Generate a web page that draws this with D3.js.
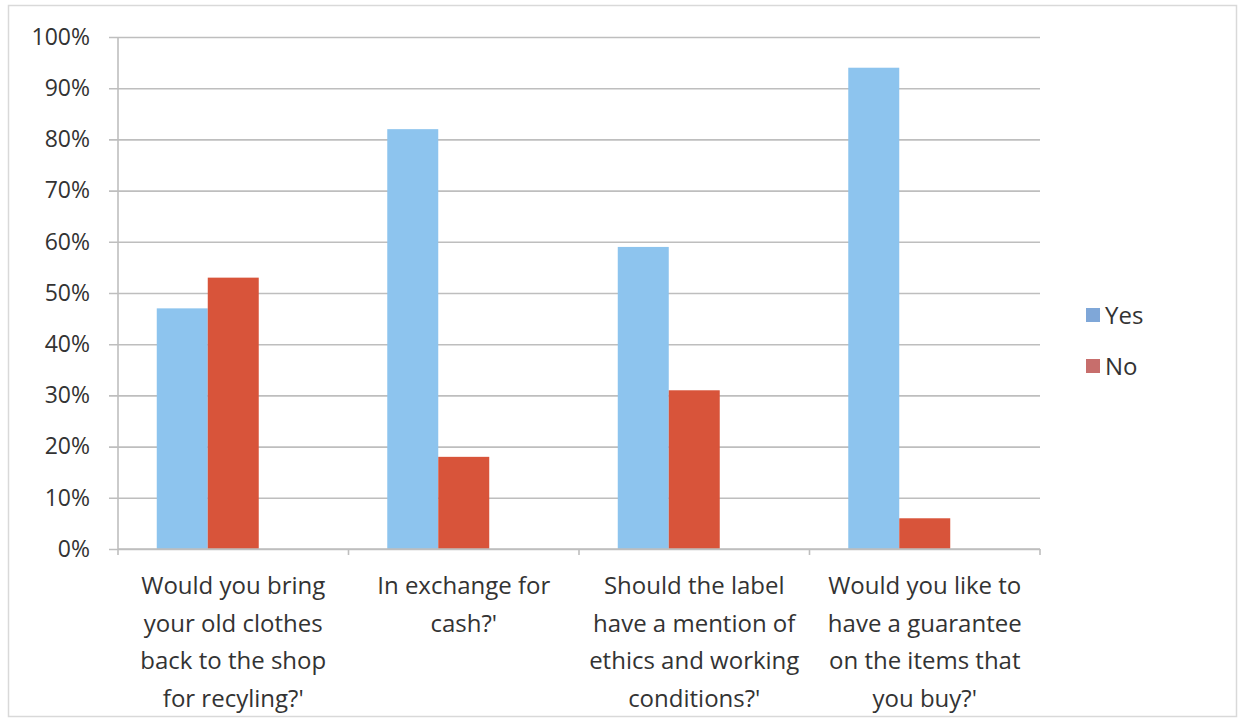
<!DOCTYPE html>
<html>
<head>
<meta charset="utf-8">
<script src="https://cdn.jsdelivr.net/npm/d3@7"></script>
<style>
  html, body { margin: 0; padding: 0; background: #fff; }
  svg { display: block; }
  text { font-family: "Open Sans", "Liberation Sans", sans-serif; fill: #333; }
</style>
</head>
<body>
<svg id="chart" width="1239" height="721"></svg>
<script>
// Survey questions and answer shares (%)
const categories = [
  ["Would you bring", "your old clothes", "back to the shop", "for recyling?'"],
  ["In exchange for", "cash?'"],
  ["Should the label", "have a mention of", "ethics and working", "conditions?'"],
  ["Would you like to", "have a guarantee", "on the items that", "you buy?'"]
];
const seriesNames = ["Yes", "No"];
const yesValues = [47, 82, 59, 94];
const noValues = [53, 18, 31, 6];
const yTicks = [0, 10, 20, 30, 40, 50, 60, 70, 80, 90, 100];

const barColors = { Yes: "#8DC4EE", No: "#D8543A" };
const legendColors = { Yes: "#7FA7D8", No: "#C76E6C" };

const svg = d3.select("#chart");

// Outer chart frame
svg.append("rect")
  .attr("x", 8.5).attr("y", 5.5)
  .attr("width", 1228).attr("height", 711)
  .attr("fill", "#fff").attr("stroke", "#D9D9D9").attr("stroke-width", 1.5);

const plot = { left: 118, right: 1040, top: 37, bottom: 549 };

const y = d3.scaleLinear().domain([0, 100]).range([plot.bottom, plot.top]);
const x0 = d3.scaleBand().domain(d3.range(categories.length))
  .range([plot.left, plot.right]).paddingInner(0).paddingOuter(0);
// Three slots per group; the last one stays empty
const x1 = d3.scaleBand().domain(["Yes", "No", "_"])
  .range([0, x0.bandwidth()]).paddingInner(0).paddingOuter(0.76);

// Horizontal gridlines with left tick marks
const yAxis = d3.axisLeft(y).tickValues(yTicks)
  .tickSize(plot.right - plot.left + 9)
  .tickFormat(d => d + "%");
const gy = svg.append("g")
  .attr("transform", `translate(${plot.right},0)`)
  .call(yAxis);
gy.select(".domain").remove();
gy.selectAll(".tick line").attr("stroke", "#BEBEBE").attr("stroke-width", 1.6);
gy.selectAll(".tick text")
  .attr("x", -(plot.right - plot.left) - 28)
  .attr("font-size", 23).attr("fill", "#333")
  .style("font-family", '"Open Sans", "Liberation Sans", sans-serif');

// Bars
const rows = categories.map((c, i) => ({ i, Yes: yesValues[i], No: noValues[i] }));
const groups = svg.append("g").selectAll("g").data(rows).join("g")
  .attr("transform", d => `translate(${x0(d.i)},0)`);
groups.selectAll("rect")
  .data(d => seriesNames.map(k => ({ key: k, value: d[k] })))
  .join("rect")
  .attr("x", d => x1(d.key))
  .attr("width", x1.bandwidth())
  .attr("y", d => y(d.value))
  .attr("height", d => y(0) - y(d.value))
  .attr("fill", d => barColors[d.key]);

// Vertical axis line
svg.append("line")
  .attr("x1", plot.left).attr("x2", plot.left)
  .attr("y1", plot.top).attr("y2", plot.bottom)
  .attr("stroke", "#BEBEBE").attr("stroke-width", 1.6);

// Category axis with boundary ticks
svg.append("line")
  .attr("x1", plot.left).attr("x2", plot.right)
  .attr("y1", plot.bottom).attr("y2", plot.bottom)
  .attr("stroke", "#BEBEBE").attr("stroke-width", 1.6);
const boundaries = d3.range(categories.length + 1).map(i => plot.left + i * x0.bandwidth());
svg.append("g").selectAll("line").data(boundaries).join("line")
  .attr("x1", d => d).attr("x2", d => d)
  .attr("y1", plot.bottom).attr("y2", plot.bottom + 6)
  .attr("stroke", "#BEBEBE").attr("stroke-width", 1.6);

// Wrapped category labels
const labels = svg.append("g").selectAll("text").data(categories).join("text")
  .attr("text-anchor", "middle")
  .attr("font-size", 24)
  .attr("y", 594);
labels.selectAll("tspan").data((d, i) => d.map(line => ({ line, i }))).join("tspan")
  .attr("x", d => x0(d.i) + x0.bandwidth() / 2)
  .attr("dy", (d, j) => j === 0 ? 0 : 37.5)
  .text(d => d.line);

// Legend
const legend = svg.append("g").selectAll("g").data(seriesNames).join("g")
  .attr("transform", (d, i) => `translate(1086,${315 + i * 51})`);
legend.append("rect")
  .attr("x", 0).attr("y", -7).attr("width", 14).attr("height", 14)
  .attr("fill", d => legendColors[d]);
legend.append("text")
  .attr("x", 19).attr("y", 8.5)
  .attr("font-size", 24)
  .attr("fill", "#333")
  .text(d => d);
</script>
</body>
</html>
